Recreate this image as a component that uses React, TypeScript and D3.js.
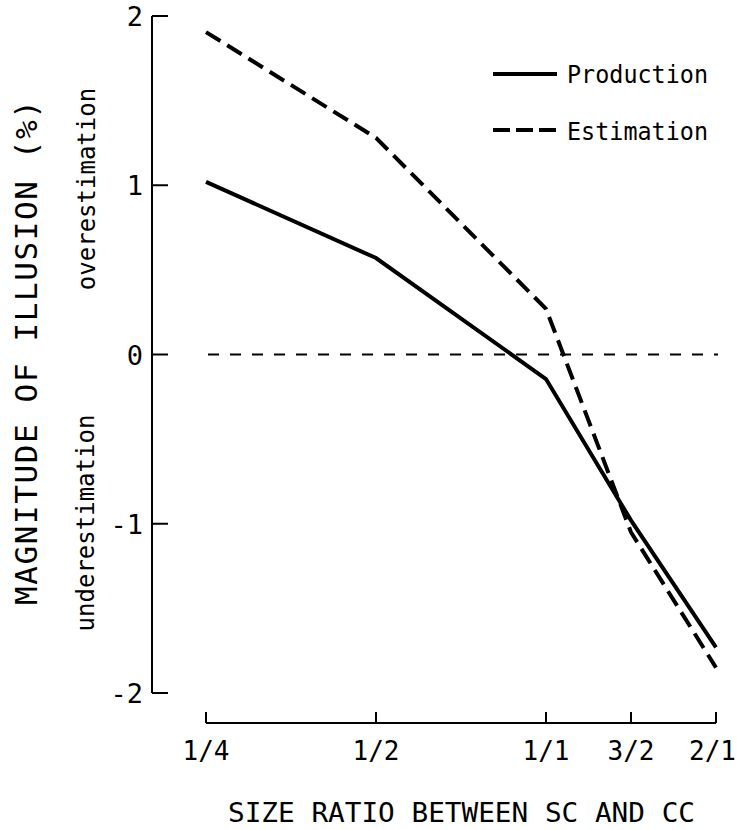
import React from "react";
import * as d3 from "d3";

// size ratio categories and their spacing along the original axis
const categories = ["1/4", "1/2", "1/1", "3/2", "2/1"];
const categoryPos = [0, 1, 2, 2.5, 3];

const production = [1.02, 0.57, -0.145, -0.98, -1.73];
const estimation = [1.905, 1.28, 0.27, -1.05, -1.85];

const yTicks = [2, 1, 0, -1, -2];

const W = 737;
const H = 830;
const FONT = "'DejaVu Sans Mono', 'Liberation Mono', monospace";
const TICK_FONT = 26;

export default function App() {
  const x = d3.scaleLinear().domain([0, 3]).range([206, 716]);
  const y = d3.scaleLinear().domain([-2, 2]).range([693, 16]);

  const line = d3
    .line<number>()
    .x((_, i) => x(categoryPos[i]))
    .y((d) => y(d));

  const axisX = 152;
  const axisY = 723;
  // keep the last tick label inside the page
  const halfLabel = (3 * 0.602 * TICK_FONT) / 2 + 1;

  return (
    <svg
      width={W}
      height={H}
      style={{ position: "absolute", left: 0, top: 0, background: "#fff" }}
      fontFamily={FONT}
    >
      {/* y axis */}
      <line x1={axisX} x2={axisX} y1={y(2)} y2={y(-2)} stroke="#000" strokeWidth={2} />
      {yTicks.map((t) => (
        <g key={t}>
          <line x1={axisX} x2={axisX + 16} y1={y(t)} y2={y(t)} stroke="#000" strokeWidth={2} />
          <text x={143} y={y(t) + 10} textAnchor="end" fontSize={27}>
            {t < 0 ? `-${Math.abs(t)}` : t}
          </text>
        </g>
      ))}

      {/* x axis */}
      <line x1={x(0)} x2={x(3)} y1={axisY} y2={axisY} stroke="#000" strokeWidth={2} />
      {categories.map((c, i) => (
        <g key={c}>
          <line
            x1={x(categoryPos[i])}
            x2={x(categoryPos[i])}
            y1={axisY}
            y2={axisY - 11}
            stroke="#000"
            strokeWidth={2}
          />
          <text
            x={Math.min(x(categoryPos[i]), W - halfLabel)}
            y={760}
            textAnchor="middle"
            fontSize={TICK_FONT}
          >
            {c}
          </text>
        </g>
      ))}

      {/* zero reference */}
      <line
        x1={208}
        x2={718}
        y1={y(0)}
        y2={y(0)}
        stroke="#000"
        strokeWidth={2}
        strokeDasharray="11 11"
      />

      {/* series */}
      <path d={line(production) ?? ""} fill="none" stroke="#000" strokeWidth={4} />
      <path
        d={line(estimation) ?? ""}
        fill="none"
        stroke="#000"
        strokeWidth={4}
        strokeDasharray="17 8"
      />

      {/* legend */}
      <line x1={493} x2={557} y1={74} y2={74} stroke="#000" strokeWidth={4} />
      <text x={567} y={83} fontSize={24} textLength={141} lengthAdjust="spacingAndGlyphs">
        Production
      </text>
      <line
        x1={493}
        x2={557}
        y1={130}
        y2={130}
        stroke="#000"
        strokeWidth={4}
        strokeDasharray="17 6"
      />
      <text x={567} y={140} fontSize={24} textLength={141} lengthAdjust="spacingAndGlyphs">
        Estimation
      </text>

      {/* axis titles */}
      <text
        x={228}
        y={822}
        fontSize={27}
        textLength={467}
        lengthAdjust="spacingAndGlyphs"
      >
        SIZE RATIO BETWEEN SC AND CC
      </text>
      <text
        transform="translate(37,605) rotate(-90)"
        fontSize={31}
        textLength={505}
        lengthAdjust="spacing"
      >
        MAGNITUDE OF ILLUSION (%)
      </text>
      <text
        transform="translate(95,189) rotate(-90)"
        textAnchor="middle"
        fontSize={24}
      >
        overestimation
      </text>
      <text
        transform="translate(94,523) rotate(-90)"
        textAnchor="middle"
        fontSize={24}
      >
        underestimation
      </text>
    </svg>
  );
}
